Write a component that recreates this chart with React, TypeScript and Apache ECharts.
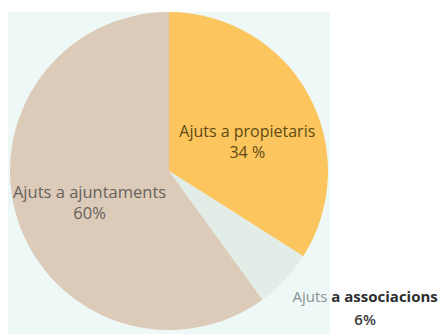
import React, { useEffect, useRef } from "react";
import * as echarts from "echarts";

const categories = ["Ajuts a propietaris", "Ajuts a associacions", "Ajuts a ajuntaments"];
const values = [34, 6, 60];
const valueLabels = ["34 %", "6%", "60%"];
const colors = ["#fcc55e", "#e2ede7", "#dccbb9"];

export default function App() {
  const ref = useRef<HTMLDivElement>(null);
  useEffect(() => {
    const chart = echarts.init(ref.current!, null, { renderer: "svg" });
    const font = "'Open Sans', 'Noto Sans', sans-serif";
    chart.setOption({
      animation: false,
      backgroundColor: "#ffffff",
      graphic: [
        {
          type: "rect",
          z: -10,
          shape: { x: 8, y: 12, width: 322, height: 322 },
          style: { fill: "#eef8f6" },
        },
      ],
      series: [
        {
          type: "pie",
          center: [169, 171],
          radius: [0, 159],
          startAngle: 90,
          clockwise: true,
          silent: true,
          labelLine: { show: false },
          itemStyle: { borderWidth: 0 },
          data: categories.map((name, i) => {
            const base: any = {
              name,
              value: values[i],
              itemStyle: { color: colors[i] },
            };
            if (i === 0) {
              base.label = {
                show: true,
                position: "inside",
                offset: [6, 10],
                fontFamily: font,
                fontSize: 16,
                lineHeight: 21,
                color: "#5e4a12",
                formatter: () => `${name}\n${valueLabels[i]}`,
              };
            } else if (i === 2) {
              base.label = {
                show: true,
                position: "inside",
                offset: [-1, 6],
                fontFamily: font,
                fontSize: 16.5,
                lineHeight: 21,
                color: "#67625c",
                formatter: () => `${name}\n${valueLabels[i]}`,
              };
            } else {
              base.label = {
                show: true,
                position: "inside",
                offset: [136, 80],
                fontFamily: font,
                fontSize: 15,
                lineHeight: 23,
                align: "center",
                formatter: () => `{l|Ajuts} {b|a associacions}\n{c|${valueLabels[i]}}`,
                rich: {
                  l: { color: "#8a9090", fontFamily: font, fontSize: 15 },
                  b: { color: "#2e2e2e", fontFamily: font, fontSize: 15, fontWeight: "bold" },
                  c: { color: "#3a3a3a", fontFamily: font, fontSize: 15, fontWeight: 600 },
                },
              };
            }
            return base;
          }),
        },
      ],
    });
    return () => chart.dispose();
  }, []);
  return (
    <div
      ref={ref}
      style={{ position: "fixed", left: 0, top: 0, width: 442, height: 334 }}
    />
  );
}
